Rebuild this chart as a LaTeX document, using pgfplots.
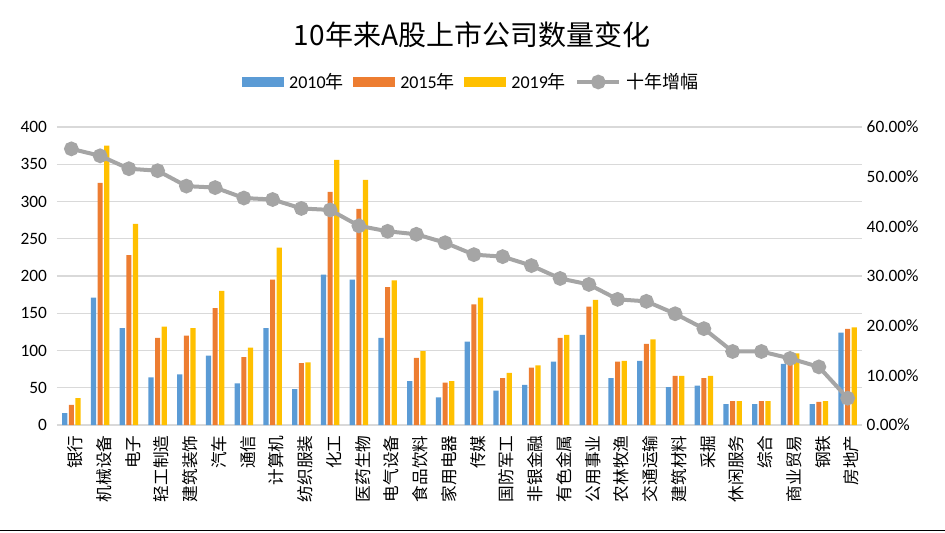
\documentclass[border=0pt]{standalone}
\usepackage{fontspec}
\setmainfont{Carlito}
\newfontfamily\cjk{Noto Sans CJK SC}
\usepackage{pgfplots}
\usepackage{pgfplotstable}
\pgfplotsset{compat=1.18}
\pgfplotsset{/pgf/number format/assume math mode=true}

\definecolor{c10}{HTML}{5B9BD5}
\definecolor{c15}{HTML}{ED7D31}
\definecolor{c19}{HTML}{FFC000}
\definecolor{cl}{HTML}{A5A5A5}
\definecolor{gridc}{HTML}{D9D9D9}

% x a=2010 b=2015 c=2019 g=ten-year growth (%)
\pgfplotstableread{
x a b c g
0 16 27 36 55.6
1 171 325 375 54.2
2 130 228 270 51.6
3 64 117 132 51.2
4 68 120 130 48.1
5 93 157 180 47.8
6 56 91 104 45.7
7 130 195 238 45.4
8 48 83 84 43.6
9 202 313 356 43.3
10 195 290 329 40.1
11 117 185 194 39.0
12 59 90 99 38.4
13 37 57 59 36.7
14 112 162 171 34.3
15 46 63 70 33.9
16 54 77 80 32.1
17 85 117 121 29.5
18 121 159 168 28.3
19 63 85 86 25.3
20 86 109 115 24.9
21 51 66 66 22.4
22 53 63 66 19.4
23 28 32 32 14.8
24 28 32 32 14.8
25 82 88 96 13.4
26 28 31 32 11.7
27 124 129 131 5.4
}\data

\pgfplotsset{
  base/.style={
    at={(42.75pt,80.25pt)}, anchor=south west,
    scale only axis, width=603.75pt, height=223.5pt,
    xmin=-0.5, xmax=27.5,
    axis line style={draw=none}, tick style={draw=none},
    ticklabel style={font=\fontsize{13}{15}\selectfont},
  },
  barleg/.style={legend image code/.code={\fill[##1] (0pt,-3.4pt) rectangle (31.5pt,3.4pt);}},
  lineleg/.style={legend image code/.code={\draw[##1,sharp plot,mark repeat=2,mark phase=2] plot coordinates {(0pt,0pt) (15.75pt,0pt) (31.5pt,0pt)};}},
}

\begin{document}
\begin{tikzpicture}
\begin{axis}[base,
  ymin=0, ymax=400, ytick={0,50,...,400},
  ymajorgrids, grid style={gridc, line width=0.8pt},
  yticklabel style={xshift=-4pt},
  xtick={0,...,27},
  xticklabels={银行,机械设备,电子,轻工制造,建筑装饰,汽车,通信,计算机,纺织服装,化工,医药生物,电气设备,食品饮料,家用电器,传媒,国防军工,非银金融,有色金属,公用事业,农林牧渔,交通运输,建筑材料,采掘,休闲服务,综合,商业贸易,钢铁,房地产},
  xticklabel style={rotate=90, anchor=east, font=\cjk\fontsize{12.5}{13}\selectfont, yshift=-3pt},
  ybar, bar width=0.18,
  legend columns=4,
  legend style={at={(0.515,1.151)}, anchor=center, draw=none, fill=none,
    font=\fontsize{13.5}{15}\selectfont,
    /tikz/every odd column/.append style={column sep=2pt},
    /tikz/every even column/.append style={column sep=5pt}},
]
\addplot[fill=c10, draw=none, bar shift=-0.23, barleg] table[x=x,y=a]{\data};
\addlegendentry{2010{\cjk 年}}
\addplot[fill=c15, draw=none, bar shift=0, barleg] table[x=x,y=b]{\data};
\addlegendentry{2015{\cjk 年}}
\addplot[fill=c19, draw=none, bar shift=0.23, barleg] table[x=x,y=c]{\data};
\addlegendentry{2019{\cjk 年}}
\addlegendimage{cl, line width=3pt, mark=*, mark size=4pt, lineleg}
\addlegendentry{\cjk 十年增幅}
\end{axis}

\begin{axis}[base,
  ymin=0, ymax=60, ytick={0,10,...,60},
  axis y line*=right, axis x line=none,
  yticklabel={\pgfmathprintnumber[fixed,fixed zerofill,precision=2]{\tick}\%},
]
\addplot[cl, line width=3pt, mark=*, mark size=4pt] table[x=x,y=g]{\data};
\end{axis}

\node[font=\cjk\fontsize{21}{24}\selectfont] at (354pt,372.75pt) {10年来A股上市公司数量变化};
\draw[black, line width=1.2pt] (0pt,1pt) -- (708.75pt,1pt);
\pgfresetboundingbox
\path (0pt,0pt) rectangle (708.75pt,399pt);
\end{tikzpicture}
\end{document}
